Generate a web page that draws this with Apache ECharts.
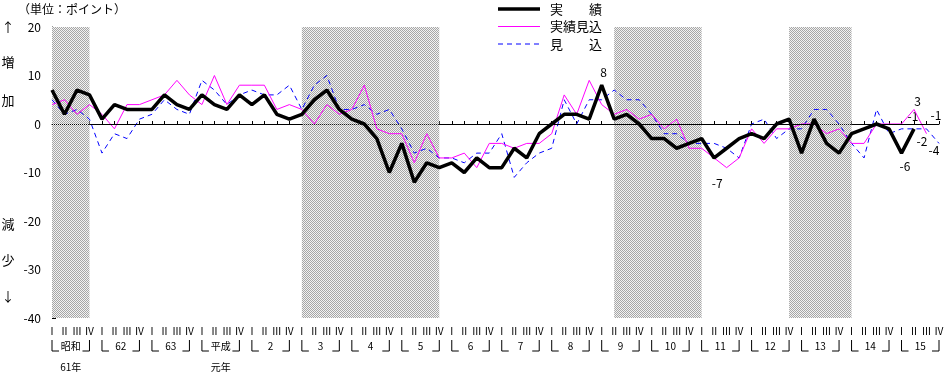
<!DOCTYPE html>
<html><head><meta charset="utf-8">
<script src="https://cdn.jsdelivr.net/npm/echarts/dist/echarts.min.js"></script>
<style>html,body{margin:0;padding:0;background:#fff}#c{width:947px;height:373px}</style>
</head><body><div id="c"></div>
<script>
// ---- data ----
const yearNames = ['昭和','62','63','平成','2','3','4','5','6','7','8','9','10','11','12','13','14','15'];
const yearSubLabels = ['61年','','','元年','','','','','','','','','','','','','',''];
const quarterLabels = ['Ⅰ','Ⅱ','Ⅲ','Ⅳ'];
const yTickLabels = [20,10,0,-10,-20,-30,-40];
const seriesNames = ['実　　績','実績見込','見　　込'];

const actual = [7,2,7,6,1,4,3,3,3,6, 4,3,6,4,3,6,4,6,2,1, 2,5,7,3,1,0,-3,-10,-4,-12,
  -8,-9,-8,-10,-7,-9,-9,-5,-7,-2, 0,2,2,1,8,1,2,0,-3,-3, -5,-4,-3,-7,-5,-3,-2,-3,0,1,
  -6,1,-4,-6,-2,-1,0,-1,-6,-1, null,null];
const estimate = [4,5,2,4,2,-1,4,4,5,6, 9,6,4,10,4,8,8,8,3,4, 3,0,4,2,3,8,-1,-2,-2,-8,
  -2,-7,-7,-6,-9,-4,-4,-5,-4,-4, -2,6,2,9,4,2,3,1,2,-1, 1,-5,-5,-7,-9,-7,-1,-4,-1,-1,
  0,0,-2,-1,-4,-4,0,0,0,3, -2,null];
const forecast = [5,2,3,1,-6,-2,-3,1,2,5, 3,2,9,7,4,6,7,6,6,8, 3,8,10,3,3,4,2,3,-1,-6,
  -5,-7,-7,-8,-6,-6,-2,-11,-8,-6, -5,5,0,5,5,7,5,5,2,-2, -2,-4,-4,-4,-5,-7,0,1,-3,-1,
  -1,3,3,0,-4,-7,3,-2,-1,-1, -1,-4];
// shaded periods (first and last quarter index)
const recessions = [[0,3],[20,31],[45,52],[59,64]];
// zero line segments drawn dotted
const dottedZero = [[0,3],[20,31],[61,64]];
// labelled points: series, index
const annotations = [['actual',44],['actual',29],['actual',53],['actual',68],['actual',69],
  ['estimate',69],['estimate',70],['forecast',70],['forecast',71]];

// ---- build ----
const categories = [];
yearNames.forEach((y,yi)=>quarterLabels.forEach((q,qi)=>categories.push(y+'|'+q)));
const seriesData = {actual, estimate, forecast};
const labelOffsets = {'actual44':[2,-13],'actual29':[17,1],'actual53':[3,25],'actual68':[3.5,13],
  'actual69':[-1,-12],'estimate69':[3.5,-8.5],'estimate70':[-4.5,7.3],'forecast70':[9.5,-13],'forecast71':[-5,6.6]};
const styles = {
  actual:{color:'#000000',width:3.5,type:'solid'},
  estimate:{color:'#ff00ff',width:1,type:'solid'},
  forecast:{color:'#0000ff',width:1,type:[5,4]}
};

const pc = document.createElement('canvas'); pc.width = 2; pc.height = 2;
const g = pc.getContext('2d');
g.fillStyle = '#f2f2f2'; g.fillRect(0,0,2,2);
g.fillStyle = '#a6a6a6'; g.fillRect(0,0,1,1); g.fillRect(1,1,1,1);

const FONT = '"Noto Sans CJK JP", sans-serif';
const n = categories.length;
const zeroSegs = [];
let cur = 0;
dottedZero.forEach(([a,b])=>{
  if (a > cur) zeroSegs.push([{coord:[cur,0],lineStyle:{type:'solid'}},{coord:[a,0]}]);
  zeroSegs.push([{coord:[a,0], lineStyle:{type:[1,1]}},{coord:[b,0]}]);
  cur = b;
});
if (cur < n-1) zeroSegs.push([{coord:[cur,0],lineStyle:{type:'solid'}},{coord:[n-1,0]}]);

const chart = echarts.init(document.getElementById('c'), null, {renderer:'canvas'});
chart.setOption({
  animation:false,
  textStyle:{fontFamily:FONT},
  grid:{left:52,right:7,top:27,bottom:55,containLabel:false},
  xAxis:{
    type:'category', data:categories, boundaryGap:false,
    axisLine:{lineStyle:{color:'#000',width:1}},
    axisTick:{show:true,inside:true,length:3,interval:0,lineStyle:{color:'#000'}},
    axisLabel:{interval:0,margin:8,fontSize:10,color:'#000',fontFamily:FONT,
      formatter:v=>v.split('|')[1]},
    splitLine:{show:false}
  },
  yAxis:{
    type:'value', min:yTickLabels[yTickLabels.length-1], max:yTickLabels[0], interval:10,
    axisLine:{show:true,lineStyle:{color:'#000',width:1}},
    axisTick:{show:true,inside:true,length:4,lineStyle:{color:'#000'}},
    minorTick:{show:true,splitNumber:5,length:3,lineStyle:{color:'#000'}},
    axisLabel:{margin:11,fontSize:12,color:'#000',fontFamily:FONT},
    splitLine:{show:false}
  },
  series:[
    {name:'bands', type:'line', data:categories.map(()=>null), silent:true,
     markArea:{silent:true, itemStyle:{color:{image:pc,repeat:'repeat'},opacity:1,borderWidth:0},
       data:recessions.map(([a,b])=>[{xAxis:a,yAxis:yTickLabels[0]},{xAxis:b,yAxis:yTickLabels[yTickLabels.length-1]}])},
     markLine:{silent:true,symbol:['none','none'],label:{show:false},
       lineStyle:{color:'#000',width:1},data:zeroSegs}
    },
    {name:seriesNames[2], type:'line', data:forecast, symbol:'none', showSymbol:false,
     lineStyle:styles.forecast, itemStyle:{color:styles.forecast.color}},
    {name:seriesNames[1], type:'line', data:estimate, symbol:'none', showSymbol:false,
     lineStyle:styles.estimate, itemStyle:{color:styles.estimate.color}},
    {name:seriesNames[0], type:'line', data:actual, symbol:'none', showSymbol:false,
     lineStyle:styles.actual, itemStyle:{color:styles.actual.color}}
  ]
});

// graphic texts placed via the chart's own scales
const gr = [];
const txt = (x,y,t,size,align)=>gr.push({type:'text',x:x,y:y,silent:true,
  style:{text:t,fill:'#000',font:size+'px '+FONT,textAlign:align||'center',textVerticalAlign:'middle'}});
txt(18,9,'（単位：ポイント）',12,'left');
[['↑',27],['増',62],['加',100],['減',224],['少',260],['↓',296]].forEach(([t,y])=>txt(8,y,t,13));
// legend
[['actual',9],['estimate',26.5],['forecast',44]].forEach(([k,y],i)=>{
  const st = styles[k];
  gr.push({type:'line',silent:true,shape:{x1:498,y1:y,x2:540,y2:y},
    style:{stroke:st.color,lineWidth:st.width,lineDash:st.type==='solid'?null:st.type}});
  txt(550,y,seriesNames[i],13,'left');
});
yearNames.forEach((name,yi)=>{
  const x1 = chart.convertToPixel({gridIndex:0},[yi*4,0])[0];
  const x4 = chart.convertToPixel({gridIndex:0},[yi*4+3,0])[0];
  gr.push({type:'polyline',silent:true,shape:{points:[[x1,340],[x1,351],[x1+7,351]]},style:{stroke:'#000',lineWidth:1,fill:null}});
  gr.push({type:'polyline',silent:true,shape:{points:[[x4-7,351],[x4,351],[x4,340]]},style:{stroke:'#000',lineWidth:1,fill:null}});
  txt((x1+x4)/2,346,name,10);
  if (yearSubLabels[yi]) txt((x1+x4)/2,367,yearSubLabels[yi],10);
});
annotations.forEach(([s,i])=>{
  const v = seriesData[s][i];
  const p = chart.convertToPixel({gridIndex:0},[i,v]);
  const o = labelOffsets[s+i];
  txt(p[0]+o[0],p[1]+o[1],String(v),12);
});
chart.setOption({graphic:gr});
</script></body></html>
